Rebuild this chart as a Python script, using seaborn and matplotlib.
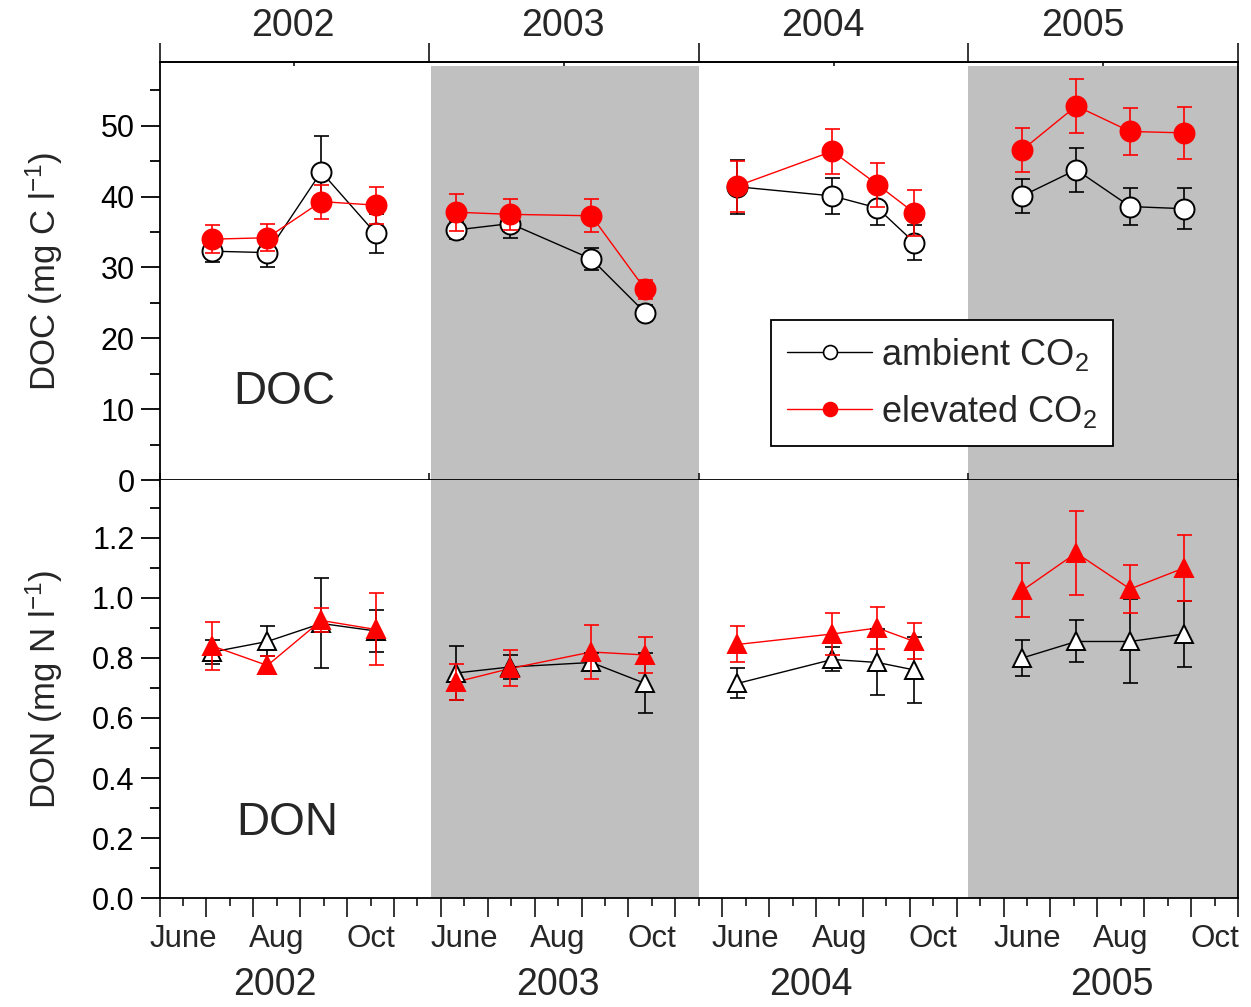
import numpy as np
import pandas as pd
import seaborn as sns
import matplotlib.pyplot as plt
from matplotlib.ticker import FixedLocator, FixedFormatter, MultipleLocator, FormatStrFormatter
from matplotlib.lines import Line2D

sns.set_style('ticks')
plt.rcParams['font.family'] = ['Liberation Sans', 'DejaVu Sans']
plt.rcParams['mathtext.fontset'] = 'custom'
plt.rcParams['mathtext.rm'] = 'Liberation Sans'
plt.rcParams['mathtext.it'] = 'Liberation Sans:italic'

# x axis runs in month units; each year panel is 5.75 units wide
years = [2002, 2003, 2004, 2005]
year_edges = [0, 5.75, 11.5, 17.25, 23]
month_labels = ['June', 'Aug', 'Oct'] * 4
month_label_pos = [0.5, 2.5, 4.5, 6.5, 8.5, 10.5, 12.5, 14.5, 16.5, 18.5, 20.5, 22.5]
top_year_pos = [2.84, 8.61, 14.14, 19.7]
bottom_year_pos = [2.47, 8.49, 13.9, 20.3]

sample_x = [1.13, 2.30, 3.45, 4.61,
            6.33, 7.48, 9.21, 10.36,
            12.32, 14.35, 15.31, 16.10,
            18.40, 19.55, 20.70, 21.85]
sample_year = [2002] * 4 + [2003] * 4 + [2004] * 4 + [2005] * 4

doc_ambient = [32.3, 32.1, 43.5, 34.8,
               35.3, 36.2, 31.2, 23.6,
               41.4, 40.1, 38.4, 33.5,
               40.1, 43.8, 38.6, 38.3]
doc_ambient_err = [1.5, 2.0, 5.1, 2.8,
                   1.3, 2.1, 1.6, 1.1,
                   3.8, 2.6, 2.4, 2.5,
                   2.4, 3.1, 2.6, 2.9]
doc_elevated = [34.0, 34.2, 39.3, 38.8,
                37.8, 37.5, 37.3, 26.9,
                41.5, 46.4, 41.7, 37.7,
                46.6, 52.8, 49.2, 49.0]
doc_elevated_err = [2.0, 1.9, 2.4, 2.6,
                    2.6, 2.2, 2.3, 1.4,
                    3.6, 3.2, 3.1, 3.2,
                    3.1, 3.8, 3.3, 3.7]

don_ambient = [0.82, 0.855, 0.915, 0.89,
               0.75, 0.77, 0.785, 0.715,
               0.715, 0.795, 0.785, 0.76,
               0.80, 0.855, 0.855, 0.88]
don_ambient_err = [0.04, 0.05, 0.15, 0.07,
                   0.09, 0.04, 0.03, 0.10,
                   0.05, 0.04, 0.11, 0.11,
                   0.06, 0.07, 0.14, 0.11]
don_elevated = [0.84, 0.775, 0.925, 0.895,
                0.72, 0.765, 0.82, 0.81,
                0.845, 0.88, 0.90, 0.855,
                1.025, 1.15, 1.03, 1.10]
don_elevated_err = [0.08, 0.03, 0.04, 0.12,
                    0.06, 0.06, 0.09, 0.06,
                    0.06, 0.07, 0.07, 0.06,
                    0.09, 0.14, 0.08, 0.11]

colors = {'ambient': 'black', 'elevated': 'red'}
shade_spans = [(5.79, 11.5), (17.25, 23)]


def long_table(amb, ele):
    return pd.DataFrame({
        'x': sample_x * 2,
        'value': amb + ele,
        'year': sample_year * 2,
        'treatment': ['ambient'] * 16 + ['elevated'] * 16,
    })


def draw_panel(ax, amb, amb_err, ele, ele_err, marker, ms, span_top):
    df = long_table(amb, ele)
    sns.lineplot(data=df, x='x', y='value', hue='treatment', units='year',
                 estimator=None, sort=False, palette=colors, lw=1.0,
                 legend=False, ax=ax, zorder=3)
    ax.errorbar(sample_x, amb, yerr=amb_err, fmt='none', ecolor='black',
                elinewidth=1.2, capsize=5.4, capthick=1.2, zorder=4)
    ax.plot(sample_x, amb, ls='none', marker=marker, ms=ms, mfc='white',
            mec='black', mew=1.4, zorder=5)
    ax.errorbar(sample_x, ele, yerr=ele_err, fmt='none', ecolor='red',
                elinewidth=1.2, capsize=5.4, capthick=1.2, zorder=6)
    ax.plot(sample_x, ele, ls='none', marker=marker, ms=ms, mfc='red',
            mec='red', mew=1.4, zorder=7)
    for x0, x1 in shade_spans:
        ax.axvspan(x0, x1, color='#c0c0c0', lw=0, zorder=0, ymax=span_top)
    ax.set_xlim(0, 23)
    ax.set_xlabel('')
    for s in ax.spines.values():
        s.set_linewidth(1.3)
        s.set_color('black')
    ax.tick_params(axis='y', which='major', direction='out', length=14,
                   width=1.3, labelsize=22, pad=4, colors='black')
    ax.tick_params(axis='y', which='minor', direction='out', length=7,
                   width=1.3, colors='black')


fig = plt.figure(figsize=(12.51, 10.07), dpi=100)
ax_doc = fig.add_axes([0.1275, 0.5233, 0.8621, 0.4151])
ax_don = fig.add_axes([0.1275, 0.1082, 0.8621, 0.4151])

# DOC panel
draw_panel(ax_doc, doc_ambient, doc_ambient_err, doc_elevated, doc_elevated_err, 'o', 14.4, 0.99)
ax_doc.set_ylim(0, 59)
ax_doc.yaxis.set_major_locator(MultipleLocator(10))
ax_doc.yaxis.set_minor_locator(MultipleLocator(5))
ax_doc.set_ylabel('DOC (mg C l$^{-1}$)', fontsize=25)
ax_doc.yaxis.set_label_coords(-0.088, 0.5)
ax_doc.set_xticks(year_edges)
ax_doc.tick_params(axis='x', which='major', direction='inout', length=10,
                   width=1.3, labelbottom=False, bottom=True, top=False)
ax_doc.text(0.116, 0.21, 'DOC', transform=ax_doc.transAxes, fontsize=33,
            ha='center', va='center')

top = ax_doc.secondary_xaxis('top')
top.set_xticks(year_edges)
top.xaxis.set_minor_locator(FixedLocator([2.875, 8.625, 14.375, 20.125]))
top.tick_params(which='major', direction='out', length=14, width=1.3, labeltop=False)
top.tick_params(which='minor', direction='in', length=3, width=1.3)
top.spines['top'].set_linewidth(1.3)
for xp, yr in zip(top_year_pos, years):
    ax_doc.text(xp, 1.086, str(yr), transform=ax_doc.get_xaxis_transform(),
                fontsize=27, ha='center', va='center')

handles = [
    Line2D([], [], color='black', lw=1.0, marker='o', ms=10, mfc='white', mec='black', mew=1.2),
    Line2D([], [], color='red', lw=1.0, marker='o', ms=10, mfc='red', mec='red', mew=1.2),
]
leg = ax_doc.legend(handles, ['ambient CO$_2$', 'elevated CO$_2$'], loc='lower left',
                    bbox_to_anchor=(0.567, 0.081), fontsize=26, frameon=True,
                    fancybox=False, framealpha=1, edgecolor='black',
                    handlelength=2.35, handletextpad=0.25, borderpad=0.45,
                    labelspacing=0.55, borderaxespad=0)
leg.get_frame().set_linewidth(1.3)
leg.set_zorder(10)

# DON panel
draw_panel(ax_don, don_ambient, don_ambient_err, don_elevated, don_elevated_err, '^', 13, 1)
ax_don.set_ylim(0, 1.393)
ax_don.yaxis.set_major_locator(MultipleLocator(0.2))
ax_don.yaxis.set_minor_locator(MultipleLocator(0.1))
ax_don.yaxis.set_major_formatter(FormatStrFormatter('%.1f'))
ax_don.set_ylabel('DON (mg N l$^{-1}$)', fontsize=25)
ax_don.yaxis.set_label_coords(-0.088, 0.5)
ax_don.spines['top'].set_visible(False)
ax_don.xaxis.set_major_locator(MultipleLocator(1))
ax_don.xaxis.set_minor_locator(FixedLocator(np.arange(0.5, 23, 1)))
minor_labels = [month_labels[month_label_pos.index(p)] if p in month_label_pos else ''
                for p in np.arange(0.5, 23, 1)]
ax_don.xaxis.set_minor_formatter(FixedFormatter(minor_labels))
ax_don.xaxis.set_major_formatter(FixedFormatter([''] * 24))
ax_don.tick_params(axis='x', which='major', direction='out', length=14, width=1.3)
ax_don.tick_params(axis='x', which='minor', direction='out', length=6, width=1.3,
                   labelsize=22.5, pad=13)
ax_don.text(0.118, 0.18, 'DON', transform=ax_don.transAxes, fontsize=33,
            ha='center', va='center')
for xp, yr in zip(bottom_year_pos, years):
    ax_don.text(xp, -0.208, str(yr), transform=ax_don.get_xaxis_transform(),
                fontsize=27, ha='center', va='center')

fig.savefig('out.png', dpi=100)
